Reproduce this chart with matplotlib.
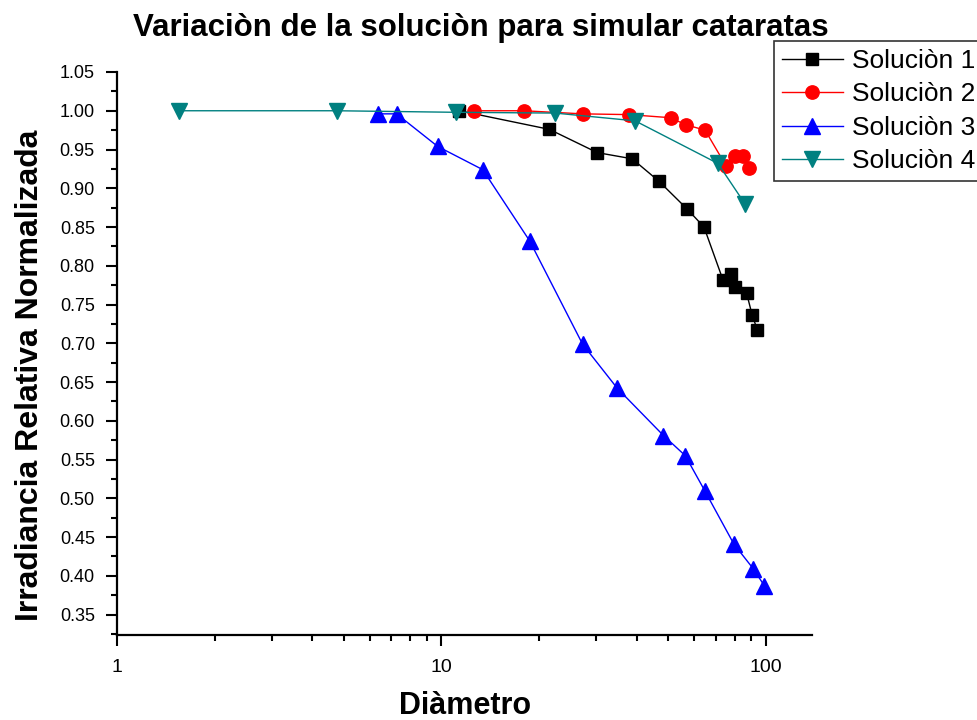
import matplotlib
matplotlib.use("Agg")
import matplotlib.pyplot as plt
from matplotlib.ticker import MultipleLocator, LogLocator, NullFormatter, FixedLocator

plt.rcParams['font.family'] = ['Liberation Sans', 'DejaVu Sans']

# datos
d1 = [11.35, 21.5, 30.2, 38.7, 46.8, 57.2, 64.4, 73.8, 77.8, 80.2, 87.1, 90.7, 94.1]
s1 = [1.000, 0.976, 0.946, 0.938, 0.909, 0.873, 0.850, 0.781, 0.790, 0.773, 0.765, 0.736, 0.717]

d2 = [12.6, 17.9, 27.2, 37.9, 50.8, 56.5, 64.9, 75.3, 80.2, 84.7, 88.8]
s2 = [1.000, 1.000, 0.996, 0.995, 0.991, 0.982, 0.975, 0.929, 0.942, 0.942, 0.926]

d3 = [6.39, 7.27, 9.73, 13.4, 18.7, 27.2, 34.8, 48.3, 56.4, 64.9, 79.6, 91.4, 98.9]
s3 = [0.996, 0.996, 0.954, 0.924, 0.832, 0.699, 0.642, 0.581, 0.555, 0.509, 0.441, 0.409, 0.387]

d4 = [1.55, 4.75, 11.1, 22.4, 39.5, 71.1, 86.1]
s4 = [1.000, 1.000, 0.998, 0.997, 0.987, 0.932, 0.880]

etiquetas = ['Soluciòn 1', 'Soluciòn 2', 'Soluciòn 3', 'Soluciòn 4']
xticks = [1, 10, 100]
yticks = [0.35 + 0.05*i for i in range(15)]

fig = plt.figure(figsize=(9.78, 7.2), dpi=100)
ax = fig.add_axes([117/978, 85/720, (812-117)/978, (635-72)/720])

ax.plot(d1, s1, color='black', lw=1.0, marker='s', ms=8.6, label=etiquetas[0])
ax.plot(d2, s2, color='red', lw=1.0, marker='o', ms=9.6, label=etiquetas[1])
ax.plot(d3, s3, color='blue', lw=1.0, marker='^', ms=11.5, label=etiquetas[2])
ax.plot(d4, s4, color='teal', lw=1.0, marker='v', ms=12, label=etiquetas[3])

ax.set_xscale('log')
ax.set_xlim(1, 138.6)
ax.set_ylim(0.3236, 1.05)

ax.xaxis.set_major_locator(FixedLocator(xticks))
ax.xaxis.set_minor_locator(LogLocator(base=10, subs=range(2, 10)))
ax.xaxis.set_minor_formatter(NullFormatter())
ax.set_xticklabels([str(t) for t in xticks])

ax.yaxis.set_major_locator(FixedLocator(yticks))
ax.yaxis.set_minor_locator(MultipleLocator(0.025))
ax.set_yticklabels(['%.2f' % t for t in yticks])

for lado in ['top', 'right']:
    ax.spines[lado].set_visible(False)
for lado in ['left', 'bottom']:
    ax.spines[lado].set_linewidth(1.6)

ax.tick_params(which='major', direction='out', length=8, width=1.5, pad=8)
ax.tick_params(which='minor', direction='out', length=4.5, width=1.5)
ax.tick_params(axis='x', which='major', labelsize=14, pad=9)
ax.tick_params(axis='y', which='major', labelsize=13)

ax.set_xlabel('Diàmetro', fontsize=22, fontweight='bold', va='center')
ax.xaxis.set_label_coords(0.5007, (635-706)/563)
ax.set_ylabel('Irradiancia Relativa Normalizada', fontsize=23, fontweight='bold', va='center')
ax.yaxis.set_label_coords((30-117)/695, (635-375)/563)

fig.text(481/978, 1 - 28/720, 'Variaciòn de la soluciòn para simular cataratas',
         fontsize=22.5, fontweight='bold', ha='center', va='center')

leg = fig.legend(loc='upper left', bbox_to_anchor=(774/978, 1 - 41/720), fontsize=19,
                 frameon=True, fancybox=False, borderaxespad=0, borderpad=0.3,
                 handlelength=2.3, handletextpad=0.35, labelspacing=0.36)
leg.get_frame().set_edgecolor('black')
leg.get_frame().set_linewidth(1.2)

fig.savefig('out.png', dpi=100)
